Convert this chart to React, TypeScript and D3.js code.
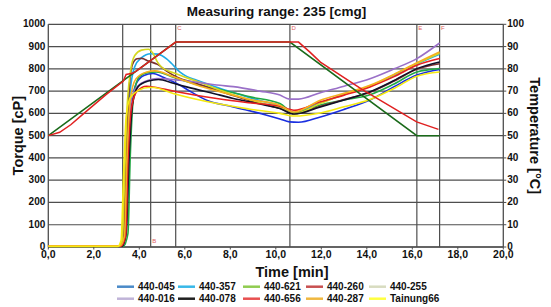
import React from "react";
import * as d3 from "d3";

type Pt = [number, number];

// ---- data (time [min], torque [cP]) ----
const S_440_045: Pt[] = [[0,4],[3.2,4],[3.4,50],[3.52,350],[3.65,620],[3.85,730],[4.2,770],[4.6,779],[5.0,765],[5.79,726],[6.15,704],[6.96,659],[8.13,629],[9.6,592],[10.18,575],[10.6,562],[11.0,560],[11.96,584],[13.0,618],[14.14,660],[15.2,720],[16.2,772],[17.2,797]];
const S_440_357: Pt[] = [[0,5],[3.15,5],[3.35,50],[3.45,400],[3.6,700],[3.8,810],[4.1,850],[4.5,868],[4.8,866],[5.2,845],[5.42,824],[5.79,785],[6.1,765],[6.5,750],[7.5,714],[8.5,682],[9.5,652],[10.2,634],[10.8,604],[11.96,648],[13.0,685],[14.14,722],[15.2,770],[16.2,821],[17.2,865]];
const S_440_621: Pt[] = [[0,4],[3.3,4],[3.5,60],[3.6,400],[3.75,680],[4.0,765],[4.4,784],[4.76,786],[5.5,762],[6.67,726],[7.55,707],[8.87,674],[10.18,644],[10.8,603],[11.96,638],[13.0,660],[14.14,684],[15.2,732],[16.2,786],[17.2,801]];
const S_440_260: Pt[] = [[0,5],[3.1,5],[3.3,40],[3.4,350],[3.55,700],[3.7,820],[3.9,845],[4.1,847],[4.4,835],[4.8,820],[5.2,790],[5.64,764],[6.5,735],[7.5,700],[8.5,668],[9.5,640],[10.2,622],[10.8,598],[11.96,632],[13.0,662],[14.14,695],[15.2,745],[16.2,798],[17.2,823]];
const S_440_255: Pt[] = [[0,4],[3.1,4],[3.25,30],[3.35,300],[3.45,600],[3.6,780],[3.8,860],[4.1,884],[4.4,888],[4.6,870],[4.8,830],[5.0,806],[5.5,782],[6.5,745],[7.5,706],[8.5,672],[9.5,642],[10.2,626],[10.8,598],[11.96,645],[13.0,685],[14.14,722],[15.2,775],[16.2,824],[17.2,870]];
const S_440_016: Pt[] = [[0,5],[3.2,5],[3.4,60],[3.5,400],[3.65,660],[3.9,720],[4.3,745],[4.76,756],[5.79,749],[7.55,726],[8.13,720],[9.3,700],[10.18,682],[10.6,664],[11.0,664],[11.96,693],[13.0,722],[14.14,756],[15.2,800],[16.2,846],[17.2,916]];
const S_440_078: Pt[] = [[0,4],[3.25,4],[3.42,60],[3.55,400],[3.7,640],[3.95,720],[4.4,745],[4.84,752],[5.5,735],[6.08,719],[7.55,682],[8.13,667],[9.5,638],[10.18,622],[10.8,597],[11.96,629],[13.0,660],[14.14,697],[15.2,748],[16.2,801],[17.2,831]];
const S_440_656: Pt[] = [[0,4],[3.2,4],[3.4,50],[3.5,380],[3.65,620],[3.9,700],[4.32,722],[4.8,715],[5.64,697],[7.4,667],[8.8,648],[10.18,632],[10.8,614],[11.96,652],[13.0,682],[14.14,719],[15.2,765],[16.2,816],[17.2,846]];
const S_440_287: Pt[] = [[0,5],[3.15,5],[3.35,50],[3.45,380],[3.6,660],[3.85,755],[4.3,785],[4.69,791],[5.5,765],[6.67,722],[7.55,697],[8.87,662],[10.18,637],[10.8,606],[11.96,659],[13.0,690],[14.14,726],[15.2,775],[16.2,827],[17.2,876]];
const S_TAINUNG66: Pt[] = [[0,2],[3.05,2],[3.2,30],[3.3,300],[3.42,580],[3.6,670],[4.0,705],[4.4,716],[4.62,716],[5.49,689],[7.4,644],[8.8,620],[10.18,600],[10.8,588],[11.96,602],[13.0,630],[14.14,662],[15.2,712],[16.2,767],[17.2,786]];

const seriesNames = ["440-045","440-357","440-621","440-260","440-255","440-016","440-078","440-656","440-287","Tainung66"];
const seriesData = [S_440_045,S_440_357,S_440_621,S_440_260,S_440_255,S_440_016,S_440_078,S_440_656,S_440_287,S_TAINUNG66];
const plotColors = ["#1a2fe0","#1eaae6","#22a844","#7a3030","#d6d820","#9a70c8","#101028","#e82020","#f5b020","#f5ea10"];
const legendColors = ["#4a8ac8","#38b8e8","#90cc50","#c85050","#d8dcc0","#c0b4d8","#202020","#e85050","#f0b840","#ffff40"];

// temperature profiles (time [min], °C)
const TEMP_A: Pt[] = [[0,50],[5.6,92],[10.62,92],[16.2,50],[17.2,50]];
const TEMP_B: Pt[] = [[0,50],[0.5,51.5],[1.0,55],[1.54,59.8],[2.55,68.5],[3.3,74.5],[3.42,77.5],[3.7,78],[3.85,78.9],[5.6,92],[11.0,92],[11.5,87.5],[11.96,83],[13.84,70.4],[16.19,56.2],[17.15,52.8]];
const tempColors = ["#1a6a1a","#e02020"];

const markerTimes = [3.27, 4.5, 5.6, 10.62, 16.2, 17.2];
const markerLabels = ["", "B", "C", "D", "E", "F"];
const markerLabelAtTop = [true, false, true, true, true, true];

const xTicks = [0,2,4,6,8,10,12,14,16,18,20];
const yTicks = [0,100,200,300,400,500,600,700,800,900,1000];
const y2Ticks = [0,10,20,30,40,50,60,70,80,90,100];

const title = "Measuring range: 235 [cmg]";

const W = 551, H = 307;
const L = 48.3, R = 503.3, T = 24.3, B = 247;
const FONT = "'Liberation Sans', Arial, sans-serif";
const GRID = "#4e4e4e";

const fmt = d3.formatLocale({ decimal: ",", thousands: ".", grouping: [3], currency: ["", ""] }).format(".1f");

export default function App() {
  const x = d3.scaleLinear().domain([0, 20]).range([L, R]);
  const y = d3.scaleLinear().domain([0, 1000]).range([B, T]);
  const y2 = d3.scaleLinear().domain([0, 100]).range([B, T]);
  const line = d3.line<Pt>().x(d => x(d[0])).y(d => y(d[1])).curve(d3.curveMonotoneX);
  const tline = d3.line<Pt>().x(d => x(d[0])).y(d => y2(d[1]));

  const legendLineX = [117, 178, 243, 306, 369];
  const legendRowY = [286.7, 298.7];

  return (
    <div style={{ position: "fixed", left: 0, top: 0 }}>
      <svg width={W} height={H} style={{ display: "block", background: "#fff" }} fontFamily={FONT}>
        <text x={276.5} y={15.5} textAnchor="middle" fontSize={13.5} fontWeight="bold" fill="#111">{title}</text>

        {/* horizontal grid */}
        {yTicks.map(t => (
          <line key={"g" + t} x1={L} x2={R} y1={y(t)} y2={y(t)} stroke={GRID} strokeWidth={1.2} />
        ))}
        {/* markers */}
        {markerTimes.map((t, i) => (
          <line key={"m" + i} x1={x(t)} x2={x(t)} y1={T} y2={B} stroke={GRID} strokeWidth={1.2} />
        ))}
        {markerTimes.map((t, i) => markerLabels[i] ? (
          <text key={"ml" + i} x={x(t) + 1.5} y={markerLabelAtTop[i] ? T + 6 : B - 4} fontSize={6} fill="#e06060">{markerLabels[i]}</text>
        ) : null)}
        {/* frame */}
        <line x1={L} x2={L} y1={T} y2={B} stroke={GRID} strokeWidth={1.3} />
        <line x1={R} x2={R} y1={T} y2={B} stroke={GRID} strokeWidth={1.3} />
        <line x1={L} x2={R} y1={B} y2={B} stroke={GRID} strokeWidth={1.3} />

        {/* torque curves */}
        {seriesData.map((s, i) => (
          <path key={"s" + i} d={line(s) || ""} fill="none" stroke={plotColors[i]} strokeWidth={1.6} strokeLinejoin="round" />
        ))}
        {/* temperature */}
        {[TEMP_A, TEMP_B].map((s, i) => (
          <path key={"t" + i} d={tline(s) || ""} fill="none" stroke={tempColors[i]} strokeWidth={1.5} />
        ))}

        {/* left axis */}
        {yTicks.map(t => (
          <text key={"yl" + t} x={L - 3} y={y(t) - 0.5} dy="0.35em" textAnchor="end" fontSize={10} fontWeight="bold" fill="#111">{t}</text>
        ))}
        {/* right axis */}
        {y2Ticks.map(t => (
          <g key={"y2" + t}>
            <line x1={R} x2={R + 3} y1={y2(t)} y2={y2(t)} stroke={GRID} strokeWidth={1} />
            <text x={R + 4} y={y2(t) - 0.5} dy="0.35em" fontSize={10} fontWeight="bold" fill="#111">{t}</text>
          </g>
        ))}
        {/* x axis */}
        {xTicks.map(t => (
          <g key={"x" + t}>
            <line x1={x(t)} x2={x(t)} y1={B} y2={B + 2.5} stroke={GRID} strokeWidth={1} />
            <text x={x(t)} y={B + 10.5} textAnchor="middle" fontSize={10.5} fontWeight="bold" fill="#111">{fmt(t)}</text>
          </g>
        ))}

        <text x={292} y={276.5} textAnchor="middle" fontSize={14.5} fontWeight="bold" fill="#111">Time [min]</text>
        <text transform={`translate(23,${(T + B) / 2}) rotate(-90)`} textAnchor="middle" fontSize={14.5} fontWeight="bold" fill="#111">Torque [cP]</text>
        <text transform={`translate(530,${(T + B) / 2}) rotate(90)`} textAnchor="middle" fontSize={14.5} fontWeight="bold" fill="#111">Temperature [°C]</text>

        {/* legend */}
        {seriesNames.map((n, i) => {
          const col = i % 5, row = Math.floor(i / 5);
          const lx = legendLineX[col], ly = legendRowY[row];
          return (
            <g key={"lg" + i}>
              <line x1={lx} x2={lx + 17} y1={ly} y2={ly} stroke={legendColors[i]} strokeWidth={2.5} />
              <text x={lx + 21} y={ly} dy="0.35em" fontSize={10} fontWeight="bold" fill="#111">{n}</text>
            </g>
          );
        })}
      </svg>
    </div>
  );
}
